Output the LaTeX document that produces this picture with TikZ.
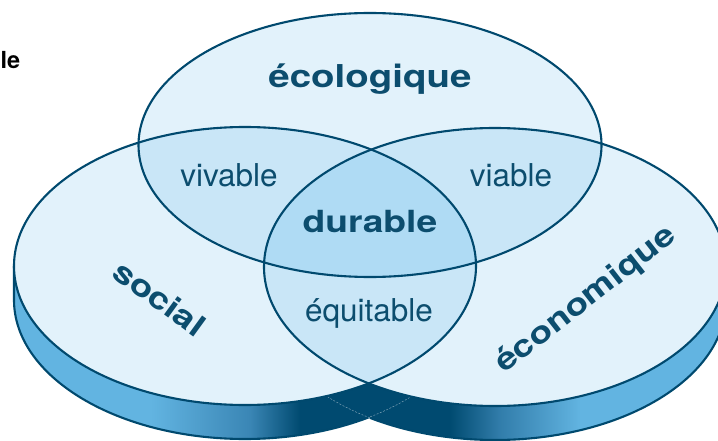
\documentclass[tikz,border=0pt]{standalone}
\usepackage{fontspec}
\setmainfont{TeX Gyre Heros}
\newfontfamily\widebold{TeX Gyre Heros}[FakeStretch=1.22]
\usepackage{tikz}

\definecolor{rimblue}{HTML}{00496E}
\definecolor{inkblue}{HTML}{0C4D6E}
\definecolor{discfill}{HTML}{E2F2FB}
\definecolor{pairfill}{HTML}{C9E6F7}
\definecolor{corefill}{HTML}{AFDBF4}
\definecolor{sidelight}{HTML}{62B4E1}
\definecolor{sidemid}{HTML}{3A86B5}
\definecolor{sidedark}{HTML}{004A70}

% side of the discs, light at both ends, dark where they meet
\pgfdeclarehorizontalshading{sideband}{100bp}{color(0bp)=(sidelight); color(25bp)=(sidelight);
  color(35.5bp)=(sidelight); color(42.4bp)=(sidemid); color(45.9bp)=(sidedark);
  color(56.3bp)=(sidedark); color(59.8bp)=(sidemid!85!sidedark); color(65.4bp)=(sidelight);
  color(75bp)=(sidelight); color(100bp)=(sidelight)}

\begin{document}
\begin{tikzpicture}[
    x=1pt, y=-1pt,
    upper/.style={x radius=231.5, y radius=132},
    lower/.style={x radius=231, y radius=139},
    rim/.style={draw=rimblue, line width=2.1pt},
    hidden/.style={draw=white, opacity=0.55, line width=0.4pt, dash pattern=on 2pt off 1.5pt},
    bigword/.style={font=\widebold\bfseries\fontsize{30.5}{30.5}\selectfont, text=inkblue},
    smallword/.style={font=\fontsize{31.5}{31.5}\selectfont, text=inkblue}
]
\useasboundingbox (0,0) rectangle (718,441);
\clip (0,0) rectangle (718,441);

\coordinate (eco) at (370,145);
\coordinate (soc) at (245,266);
\coordinate (econ) at (495,267);

% thickness of the two front discs
\begin{scope}
  \clip (soc) ++(-231,0) arc[start angle=180, end angle=0, lower] -- ++(0,34)
        arc[start angle=0, end angle=180, lower] -- cycle
        (econ) ++(-231,0) arc[start angle=180, end angle=0, lower] -- ++(0,34)
        arc[start angle=0, end angle=180, lower] -- cycle;
  \shade[shading=sideband] (0,0) rectangle (718,441);
\end{scope}
\draw[rim] (soc) ++(-231,0) -- ++(0,34) arc[start angle=180, end angle=57.2, lower];
\draw[rim] (econ) ++(231,0) -- ++(0,34) arc[start angle=0, end angle=122.8, lower];
\draw[hidden] (soc) ++(0,34) ++(57.2:231 and 139) arc[start angle=57.2, end angle=0, lower];
\draw[hidden] (econ) ++(0,34) ++(122.8:231 and 139) arc[start angle=122.8, end angle=180, lower];

% faces
\fill[discfill] (eco) ellipse[upper];
\fill[discfill] (soc) ellipse[lower];
\fill[discfill] (econ) ellipse[lower];
\begin{scope}
  \clip (eco) ellipse[upper];
  \fill[pairfill] (soc) ellipse[lower];
  \fill[pairfill] (econ) ellipse[lower];
\end{scope}
\begin{scope}
  \clip (soc) ellipse[lower];
  \fill[pairfill] (econ) ellipse[lower];
\end{scope}
\begin{scope}
  \clip (eco) ellipse[upper];
  \clip (soc) ellipse[lower];
  \fill[corefill] (econ) ellipse[lower];
\end{scope}
\draw[rim] (eco) ellipse[upper];
\draw[rim] (soc) ellipse[lower];
\draw[rim] (econ) ellipse[lower];

\node[bigword, font=\widebold\bfseries\fontsize{31.5}{31.5}\selectfont, anchor=base] (ecolabel) at (370,88) {écologique};
\node[smallword, anchor=base] (vivlabel) at (229,186) {vivable};
\node[smallword, anchor=base] (vialabel) at (511,186) {viable};
\node[bigword, anchor=base] (durlabel) at (370,233) {durable};
\node[smallword, anchor=base] (equlabel) at (369,321) {équitable};
\node[bigword, rotate=-36] (soclabel) at (160,298) {social};
\node[bigword, rotate=38] (econlabel) at (586,300) {économique};
\node[font=\bfseries\fontsize{23.5}{23.5}\selectfont, anchor=base east, inner sep=0pt] (cutlabel) at (20.5,69) {le};
\end{tikzpicture}
\end{document}
